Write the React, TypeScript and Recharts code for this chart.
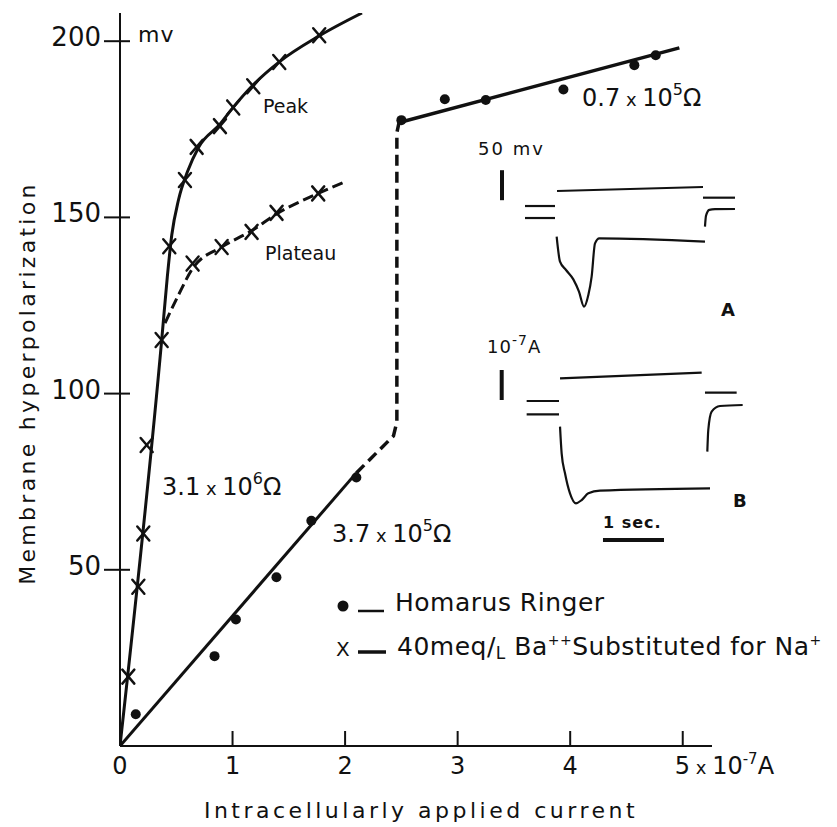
import React from 'react'
import { ComposedChart, LineChart, Line, Scatter, XAxis, YAxis } from 'recharts'

const FONT = '"DejaVu Sans", sans-serif'
const INK = '#111'

// main plot: x = applied current (10^-7 A), y = hyperpolarization (mV)
const xTicks = [0, 1, 2, 3, 4, 5]
const yTicks = [50, 100, 150, 200]

// Ba++ substituted, peak response (x markers)
const peakX = [0.074, 0.163, 0.207, 0.237, 0.37, 0.438, 0.577, 0.681, 0.888, 1.006, 1.184, 1.415, 1.77]
const peakY = [19.7, 45.2, 60.3, 85.4, 115.2, 141.8, 160.6, 170, 175.9, 181.2, 187.2, 194.1, 201.7]
// hand-drawn curve through the peak markers
const peakCurveX = [0, 0.37, 0.42, 0.46, 0.52, 0.6, 0.7, 0.89, 1.0, 1.18, 1.41, 1.77, 2.15]
const peakCurveY = [0, 115, 133, 145, 155, 163, 170, 176.5, 181, 187.5, 194, 201.5, 208]

// Ba++ substituted, plateau
const plateauX = [0.645, 0.903, 1.169, 1.391, 1.761]
const plateauY = [136.9, 141.6, 145.9, 151.3, 156.8]
const plateauCurveX = [0.4, 0.52, 0.645, 0.903, 1.169, 1.391, 1.761, 2.0]
const plateauCurveY = [120, 128, 135.5, 141.6, 146.2, 151, 156.8, 160.1]

// Homarus Ringer (dots)
const ringerX = [0.14, 0.84, 1.03, 1.39, 1.7, 2.1, 2.5, 2.886, 3.25, 3.94, 4.57, 4.76]
const ringerY = [9, 25.5, 35.9, 47.9, 63.9, 76.2, 177.6, 183.5, 183.3, 186.3, 193.2, 196]
const ringerLowX = [0, 2.1]
const ringerLowY = [0, 77.5]
const ringerJumpX = [2.1, 2.43, 2.46, 2.46, 2.48, 2.52]
const ringerJumpY = [77.5, 88, 92, 174, 177, 178]
const ringerHighX = [2.49, 4.97]
const ringerHighY = [177, 198.1]

// insets: t in seconds, v in mV (50 mV calibration)
const barA: number[][] = [[0.2, -17], [0.2, -67]]
const stimA: number[][] = [[1.117, -51.7], [3.55, -45]]
const leftHiA: number[][] = [[0.583, -76.7], [1.083, -76.7]]
const leftLoA: number[][] = [[0.583, -96.7], [1.083, -96.7]]
const rightHiA: number[][] = [[3.55, -62.8], [4.083, -62.8]]
const recoverA: number[][] = [[3.583, -111], [3.6, -93], [3.655, -83], [3.75, -82], [4.083, -81.7]]
const responseA: number[][] = [
  [1.111, -127.8], [1.167, -169.4], [1.267, -183.3], [1.389, -198.9], [1.483, -219.4], [1.567, -244.4],
  [1.639, -225], [1.694, -194.4], [1.75, -138.9], [1.822, -130.6], [3.583, -136.1],
]
const barB: number[][] = [[0.195, -350], [0.195, -400]]
const stimB: number[][] = [[1.167, -363.9], [3.528, -354.4]]
const leftHiB: number[][] = [[0.611, -401.7], [1.15, -401.7]]
const leftLoB: number[][] = [[0.611, -423.9], [1.15, -423.9]]
const rightHiB: number[][] = [[3.583, -387.8], [4.111, -387.8]]
const recoverB: number[][] = [[3.622, -486], [3.638, -450], [3.694, -419.4], [3.833, -410], [4.211, -408.3]]
const responseB: number[][] = [
  [1.167, -444.4], [1.194, -488.9], [1.25, -522.2], [1.333, -555.6], [1.433, -572.2],
  [1.528, -566.7], [1.639, -555.6], [1.833, -551.1], [3.667, -547.2],
]
const secBar: number[][] = [[1.883, -633.3], [2.9, -633.3]]

const zip = (xs: number[], ys: number[]) => xs.map((x, i) => ({ x, y: ys[i] }))
const tv = (a: number[][]) => a.map(([t, v]) => ({ t, v }))

const XMark = (props: any) => {
  const { cx, cy } = props
  return (
    <g stroke={INK} strokeWidth={2.5} strokeLinecap="round">
      <line x1={cx - 6} y1={cy - 7} x2={cx + 6} y2={cy + 7} />
      <line x1={cx + 6} y1={cy - 7} x2={cx - 6} y2={cy + 7} />
    </g>
  )
}

const DotMark = (props: any) => <circle cx={props.cx} cy={props.cy} r={5} fill={INK} />

const YTick = ({ x, y, payload }: any) => (
  <g>
    <line x1={x - 16} y1={y} x2={x + 10} y2={y} stroke={INK} strokeWidth={2} />
    <text x={x - 19} y={y + 5} textAnchor="end" fontSize={26} fill={INK} fontFamily={FONT}>
      {payload.value}
    </text>
  </g>
)

const XTick = ({ x, y, payload }: any) => {
  const v = payload.value
  return (
    <g>
      {v > 0 && <line x1={x} y1={y - 15} x2={x} y2={y} stroke={INK} strokeWidth={2} />}
      {v === 5 ? (
        <text x={x - 8} y={y + 28} fontSize={24} fill={INK} fontFamily={FONT}>
          5<tspan fontSize={18}> x </tspan>10<tspan dy={-10} fontSize={15}>-7</tspan>
          <tspan dy={10}>A</tspan>
        </text>
      ) : (
        <text x={x} y={y + 28} textAnchor="middle" fontSize={24} fill={INK} fontFamily={FONT}>
          {v}
        </text>
      )}
    </g>
  )
}

const Ohm = ({ x, y, lead, exp }: { x: number; y: number; lead: string; exp: string }) => (
  <text x={x} y={y} fontSize={24} fill={INK} fontFamily={FONT}>
    {lead}
    <tspan fontSize={18}> x </tspan>10
    <tspan dy={-11} fontSize={16}>{exp}</tspan>
    <tspan dy={11}>Ω</tspan>
  </text>
)

const insetLines = [barA, barB, secBar]
const insetTraces = [stimA, leftHiA, leftLoA, rightHiA, stimB, leftHiB, leftLoB, rightHiB]
const insetCurves = [recoverA, responseA, recoverB, responseB]

export default function App() {
  return (
    <div style={{ position: 'absolute', left: 0, top: 0, width: 837, height: 827, background: '#fff' }}>
      <ComposedChart width={837} height={827} margin={{ top: 13, right: 125, bottom: 21, left: 60 }}>
        <XAxis
          type="number"
          dataKey="x"
          domain={[0, 5.26]}
          ticks={xTicks}
          allowDataOverflow
          height={60}
          axisLine={{ stroke: INK, strokeWidth: 2 }}
          tickLine={false}
          tickSize={0}
          tickMargin={0}
          tick={<XTick />}
          interval={0}
        />
        <YAxis
          type="number"
          dataKey="y"
          domain={[0, 208]}
          ticks={yTicks}
          allowDataOverflow
          width={60}
          axisLine={{ stroke: INK, strokeWidth: 2 }}
          tickLine={false}
          tickSize={0}
          tickMargin={0}
          tick={<YTick />}
          interval={0}
        />
        <Line data={zip(peakCurveX, peakCurveY)} dataKey="y" type="monotone" stroke={INK} strokeWidth={3} dot={false} isAnimationActive={false} />
        <Line data={zip(plateauCurveX, plateauCurveY)} dataKey="y" type="monotone" stroke={INK} strokeWidth={3} strokeDasharray="11 5" dot={false} isAnimationActive={false} />
        <Line data={zip(ringerLowX, ringerLowY)} dataKey="y" type="linear" stroke={INK} strokeWidth={3} dot={false} isAnimationActive={false} />
        <Line data={zip(ringerJumpX, ringerJumpY)} dataKey="y" type="linear" stroke={INK} strokeWidth={3.5} strokeDasharray="11 6" dot={false} isAnimationActive={false} />
        <Line data={zip(ringerHighX, ringerHighY)} dataKey="y" type="linear" stroke={INK} strokeWidth={3.5} dot={false} isAnimationActive={false} />
        <Scatter data={zip(peakX, peakY)} shape={<XMark />} isAnimationActive={false} />
        <Scatter data={zip(plateauX, plateauY)} shape={<XMark />} isAnimationActive={false} />
        <Scatter data={zip(ringerX, ringerY)} shape={<DotMark />} isAnimationActive={false} />
      </ComposedChart>

      <div style={{ position: 'absolute', left: 490, top: 160 }}>
        <LineChart width={270} height={390} margin={{ top: 0, right: 0, bottom: 0, left: 0 }}>
          <XAxis type="number" dataKey="t" domain={[0, 4.5]} hide allowDataOverflow />
          <YAxis type="number" dataKey="v" domain={[-650, 0]} hide allowDataOverflow />
          {insetLines.map((d, i) => (
            <Line key={'b' + i} data={tv(d)} dataKey="v" type="linear" stroke={INK} strokeWidth={4} dot={false} isAnimationActive={false} />
          ))}
          {insetTraces.map((d, i) => (
            <Line key={'t' + i} data={tv(d)} dataKey="v" type="linear" stroke={INK} strokeWidth={2.2} dot={false} isAnimationActive={false} />
          ))}
          {insetCurves.map((d, i) => (
            <Line key={'c' + i} data={tv(d)} dataKey="v" type="monotone" stroke={INK} strokeWidth={2.2} dot={false} isAnimationActive={false} />
          ))}
        </LineChart>
      </div>

      <svg width={837} height={827} style={{ position: 'absolute', left: 0, top: 0, pointerEvents: 'none' }} fontFamily={FONT} fill={INK}>
        <text x={35} y={383} fontSize={22} letterSpacing={3.3} textAnchor="middle" transform="rotate(-90 35 383)">
          Membrane hyperpolarization
        </text>
        <text x={421} y={818} fontSize={22} letterSpacing={3.5} textAnchor="middle">
          Intracellularly applied current
        </text>
        <text x={138} y={42} fontSize={22} letterSpacing={1}>mv</text>
        <text x={263} y={113} fontSize={19}>Peak</text>
        <text x={265} y={260} fontSize={19}>Plateau</text>
        <Ohm x={162} y={495} lead="3.1" exp="6" />
        <Ohm x={332} y={542} lead="3.7" exp="5" />
        <Ohm x={582} y={106} lead="0.7" exp="5" />

        <circle cx={343} cy={606} r={5.5} />
        <line x1={358} y1={611} x2={384} y2={611} stroke={INK} strokeWidth={2.5} />
        <text x={395} y={611} fontSize={25} letterSpacing={0.5}>Homarus Ringer</text>
        <text x={336} y={656} fontSize={20}>X</text>
        <line x1={358} y1={652} x2={386} y2={652} stroke={INK} strokeWidth={3.5} />
        <text x={397} y={655} fontSize={25} letterSpacing={0.5}>
          40meq/<tspan fontSize={17} dy={4}>L</tspan>
          <tspan dy={-4}> Ba</tspan>
          <tspan dy={-10} fontSize={14}>++</tspan>
          <tspan dy={10}>Substituted for Na</tspan>
          <tspan dy={-10} fontSize={14}>+</tspan>
        </text>

        <text x={478} y={155} fontSize={18} letterSpacing={2}>50 mv</text>
        <text x={487} y={353} fontSize={18} letterSpacing={1}>
          10<tspan dy={-8} fontSize={14}>-7</tspan>
          <tspan dy={8}>A</tspan>
        </text>
        <text x={721} y={316} fontSize={18} fontWeight="bold">A</text>
        <text x={733} y={507} fontSize={18} fontWeight="bold">B</text>
        <text x={603} y={528} fontSize={16} fontWeight="bold" letterSpacing={1}>1 sec.</text>
      </svg>
    </div>
  )
}
